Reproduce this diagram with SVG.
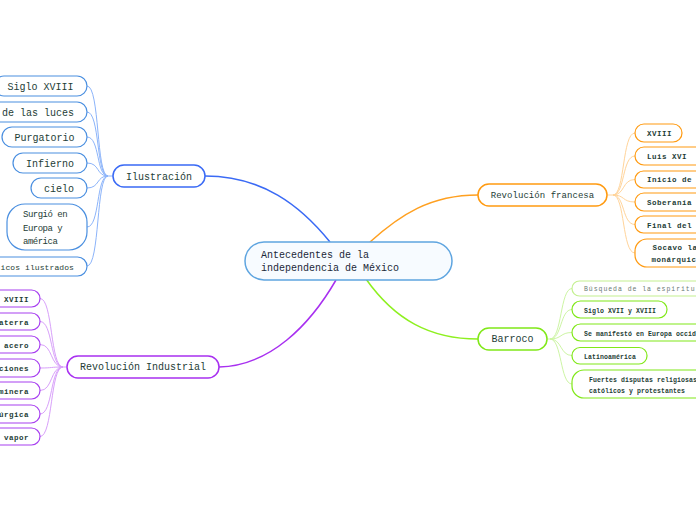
<svg xmlns="http://www.w3.org/2000/svg" width="696" height="520" viewBox="0 0 696 520">
<style>
.t{font-family:"Liberation Mono","DejaVu Sans Mono",monospace;fill:#1e3d36;}
.c{fill:none;}
.bl{stroke:#3a6af5;stroke-width:1.5;}
.blc{stroke:#8cb4fa;stroke-width:1;}
.pu{stroke:#a830f0;stroke-width:1.5;}
.puc{stroke:#d8a0fa;stroke-width:1;}
.or{stroke:#ffa020;stroke-width:1.5;}
.orc{stroke:#ffd49a;stroke-width:1;}
.gr{stroke:#8ef020;stroke-width:1.5;}
.grc{stroke:#cdf5a4;stroke-width:1;}
.nb{fill:#fff;stroke:#3a6af5;stroke-width:1.5;}
.nbc{fill:#fff;stroke:#4a8fe0;stroke-width:1.2;}
.np{fill:#fff;stroke:#a830f0;stroke-width:1.5;}
.npc{fill:#fff;stroke:#a840f0;stroke-width:1.2;}
.no{fill:#fff;stroke:#ff9a10;stroke-width:1.5;}
.noc{fill:#fff;stroke:#ff9a10;stroke-width:1.2;}
.ng{fill:#fff;stroke:#80e818;stroke-width:1.5;}
.ngc{fill:#fff;stroke:#80e818;stroke-width:1.2;}
.big{font-size:10px;}
.mid{font-size:7.5px;letter-spacing:0.5px;font-weight:bold;}
.sm{font-size:6.5px;letter-spacing:0.1px;font-weight:bold;}
</style>
<rect width="696" height="520" fill="#fff"/>
<g id="connectors">
<path class="c bl" d="M205,176 C262,176 300,205 330,242"/>
<path class="c pu" d="M219,367 C270,366 310,325 336,280"/>
<path class="c or" d="M370,242 C400,215 430,195 478,195"/>
<path class="c gr" d="M366,279 C395,320 430,339 478,339"/>
<g class="c blc">
<path d="M108,176 L113,176"/>
<path d="M87,86 C100,86 96,176 108,176"/>
<path d="M87,112 C100,112 96,176 108,176"/>
<path d="M87,137 C100,137 96,176 108,176"/>
<path d="M87,163 C100,163 96,176 108,176"/>
<path d="M87,188 C100,188 96,176 108,176"/>
<path d="M87,227 C100,227 96,176 108,176"/>
<path d="M87,266 C100,266 96,176 108,176"/>
</g>
<g class="c puc">
<path d="M63,367 L67,367"/>
<path d="M40,298.5 C53,298.5 50,367 63,367"/>
<path d="M40,321.5 C53,321.5 50,367 63,367"/>
<path d="M40,344.5 C53,344.5 50,367 63,367"/>
<path d="M40,368 C53,368 50,367 63,367"/>
<path d="M40,390.5 C53,390.5 50,367 63,367"/>
<path d="M40,414 C53,414 50,367 63,367"/>
<path d="M40,436.5 C53,436.5 50,367 63,367"/>
</g>
<g class="c orc">
<path d="M607,195 L613,195"/>
<path d="M635,133 C622,133 625,195 613,195"/>
<path d="M635,156 C622,156 625,195 613,195"/>
<path d="M635,179.5 C622,179.5 625,195 613,195"/>
<path d="M635,202 C622,202 625,195 613,195"/>
<path d="M635,224.5 C622,224.5 625,195 613,195"/>
<path d="M635,253 C622,253 625,195 613,195"/>
</g>
<g class="c grc">
<path d="M547,339 L550,339"/>
<path d="M572,288.5 C560,288.5 562,339 550,339"/>
<path d="M572,309.5 C560,309.5 562,339 550,339"/>
<path d="M572,332.5 C560,332.5 562,339 550,339"/>
<path d="M572,355.5 C560,355.5 562,339 550,339"/>
<path d="M572,384 C560,384 562,339 550,339"/>
</g>
</g>
<g id="center">
<rect x="245" y="242" width="207" height="38" rx="19" fill="#f7fbff" stroke="#5fa5e0" stroke-width="1.5"/>
<text class="t big" x="261" y="258" style="fill:#1b2838">Antecedentes de la</text>
<text class="t big" x="261" y="271" style="fill:#1b2838">independencia de México</text>
</g>
<g id="ilustracion">
<rect class="nb" x="113" y="165" width="92" height="22" rx="11"/>
<text class="t big" x="159" y="180" text-anchor="middle">Ilustración</text>
</g>
<g id="il1"><rect class="nbc" x="-6" y="76" width="93" height="20" rx="10"/><text class="t big" x="40.5" y="90" text-anchor="middle">Siglo XVIII</text></g>
<g id="il2"><rect class="nbc" x="-50" y="102" width="137" height="20" rx="10"/><text class="t big" x="74" y="116" text-anchor="end">de las luces</text></g>
<g id="il3"><rect class="nbc" x="2" y="127" width="85" height="20" rx="10"/><text class="t big" x="44.5" y="141" text-anchor="middle">Purgatorio</text></g>
<g id="il4"><rect class="nbc" x="13" y="153" width="74" height="20" rx="10"/><text class="t big" x="50" y="167" text-anchor="middle">Infierno</text></g>
<g id="il5"><rect class="nbc" x="31" y="178" width="56" height="20" rx="10"/><text class="t big" x="59" y="192" text-anchor="middle">cielo</text></g>
<g id="il6"><rect class="nbc" x="7" y="204" width="80" height="46" rx="18"/>
<text class="t" style="font-size:9px;letter-spacing:-0.5px" x="23" y="217">Surgió en</text>
<text class="t" style="font-size:9px;letter-spacing:-0.5px" x="23" y="231">Europa y</text>
<text class="t" style="font-size:9px;letter-spacing:-0.5px" x="23" y="244">américa</text></g>
<g id="il7"><rect class="nbc" x="-40" y="257" width="127" height="19" rx="9.5"/><text class="t" style="font-size:8px;letter-spacing:0.1px" x="74" y="269.5" text-anchor="end">icos ilustrados</text></g>
<g id="revind">
<rect class="np" x="67" y="356" width="152" height="22" rx="11"/>
<text class="t big" x="143" y="370" text-anchor="middle">Revolución Industrial</text>
</g>
<g id="ri1"><rect class="npc" x="-40" y="290" width="80" height="17" rx="8.5"/><text class="t mid" x="29" y="301.5" text-anchor="end">XVIII</text></g>
<g id="ri2"><rect class="npc" x="-40" y="313" width="80" height="17" rx="8.5"/><text class="t mid" x="29" y="324.5" text-anchor="end">aterra</text></g>
<g id="ri3"><rect class="npc" x="-40" y="336" width="80" height="17" rx="8.5"/><text class="t mid" x="29" y="347.5" text-anchor="end">acero</text></g>
<g id="ri4"><rect class="npc" x="-40" y="359" width="80" height="18" rx="9"/><text class="t mid" x="29" y="371" text-anchor="end">ciones</text></g>
<g id="ri5"><rect class="npc" x="-40" y="382" width="80" height="17" rx="8.5"/><text class="t mid" x="29" y="393.5" text-anchor="end">minera</text></g>
<g id="ri6"><rect class="npc" x="-40" y="405" width="80" height="18" rx="9"/><text class="t mid" x="29" y="417" text-anchor="end">úrgica</text></g>
<g id="ri7"><rect class="npc" x="-40" y="428" width="80" height="17" rx="8.5"/><text class="t mid" x="29" y="439.5" text-anchor="end">vapor</text></g>
<g id="revfr">
<rect class="no" x="478" y="184" width="129" height="22" rx="11"/>
<text class="t" style="font-size:9px;letter-spacing:0.05px" x="542.5" y="198" text-anchor="middle">Revolución francesa</text>
</g>
<g id="rf1"><rect class="noc" x="635" y="124" width="47" height="18" rx="9"/><text class="t mid" x="647" y="136">XVIII</text></g>
<g id="rf2"><rect class="noc" x="635" y="147" width="80" height="18" rx="9"/><text class="t mid" x="647" y="159">Luis XVI</text></g>
<g id="rf3"><rect class="noc" x="635" y="171" width="80" height="17" rx="8.5"/><text class="t mid" x="647" y="182">Inicio de</text></g>
<g id="rf4"><rect class="noc" x="635" y="193" width="80" height="18" rx="9"/><text class="t mid" x="647" y="205">Soberanía</text></g>
<g id="rf5"><rect class="noc" x="635" y="216" width="80" height="17" rx="8.5"/><text class="t mid" x="647" y="227.5">Final del</text></g>
<g id="rf6"><rect class="noc" x="635" y="239" width="80" height="28" rx="12"/>
<text class="t mid" x="652.5" y="250">Socavo la</text>
<text class="t mid" x="651.5" y="262">monárquic</text></g>
<g id="barroco">
<rect class="ng" x="478" y="328" width="69" height="22" rx="11"/>
<text class="t big" x="512.5" y="342" text-anchor="middle">Barroco</text>
</g>
<g id="ba1"><rect x="572" y="281" width="140" height="15" rx="7.5" fill="#fff" stroke="#c4f090" stroke-width="1.2"/><text class="t" style="font-size:6.5px;letter-spacing:0.95px;fill:#6a7a74" x="584" y="290.5">Búsqueda de la espiritu</text></g>
<g id="ba2"><rect class="ngc" x="572" y="301" width="95" height="17" rx="8.5"/><text class="t sm" x="584" y="312.5">Siglo XVII y XVIII</text></g>
<g id="ba3"><rect class="ngc" x="572" y="324" width="140" height="17" rx="8.5"/><text class="t sm" x="584" y="335.5">Se manifestó en Europa occid</text></g>
<g id="ba4"><rect class="ngc" x="572" y="347.5" width="75" height="16.5" rx="8"/><text class="t sm" x="584" y="358.5">Latinoamérica</text></g>
<g id="ba5"><rect class="ngc" x="572" y="370" width="140" height="28" rx="12"/>
<text class="t sm" x="589" y="381.5">Fuertes disputas religiosas</text>
<text class="t sm" x="589" y="392.5">católicos y protestantes</text></g>
</svg>
